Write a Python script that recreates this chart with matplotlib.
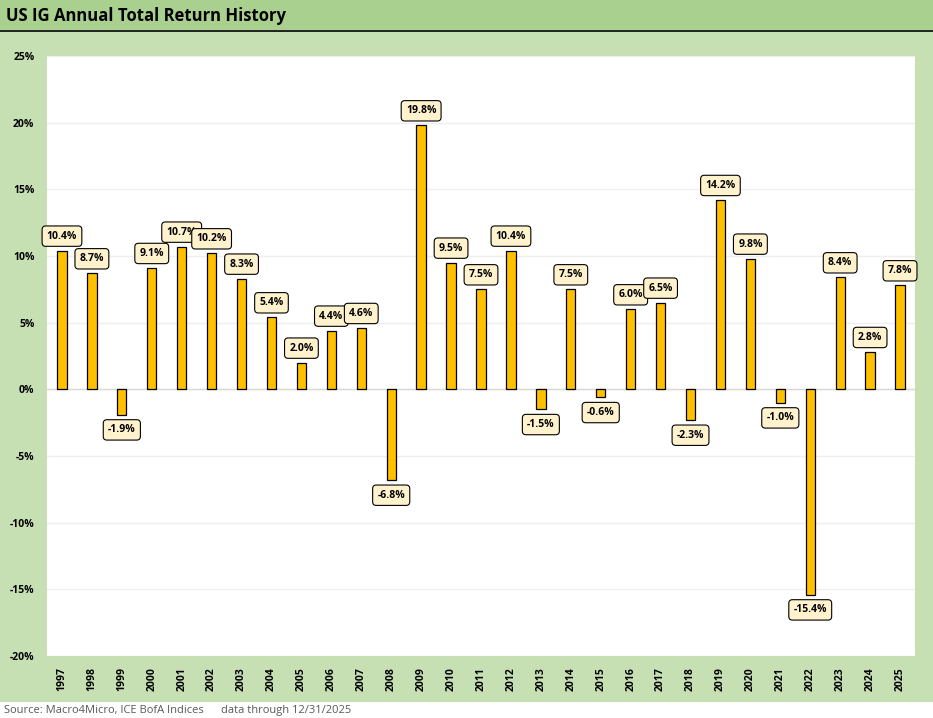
import matplotlib
matplotlib.use("Agg")
import matplotlib.pyplot as plt
from matplotlib.patches import Rectangle
from matplotlib.ticker import FuncFormatter, MultipleLocator

years = [str(y) for y in range(1997, 2026)]
returns = [10.4, 8.7, -1.9, 9.1, 10.7, 10.2, 8.3, 5.4, 2.0, 4.4, 4.6, -6.8, 19.8,
           9.5, 7.5, 10.4, -1.5, 7.5, -0.6, 6.0, 6.5, -2.3, 14.2, 9.8, -1.0, -15.4,
           8.4, 2.8, 7.8]

title = "US IG Annual Total Return History"
source = "Source: Macro4Micro, ICE BofA Indices      data through 12/31/2025"

plt.rcParams['font.family'] = ['Open Sans', 'DejaVu Sans']

W, H = 933, 718
fig = plt.figure(figsize=(W / 100, H / 100), dpi=100)
fig.patch.set_facecolor('white')

# title bar
fig.add_artist(Rectangle((0, 1 - 30 / H), 1, 30 / H, transform=fig.transFigure,
                         facecolor='#a9d08e', edgecolor='none', zorder=-2))
fig.add_artist(plt.Line2D([0, 1], [1 - 30.5 / H, 1 - 30.5 / H], transform=fig.transFigure,
                          color='black', lw=1.2, zorder=-1))
# green panel
fig.add_artist(Rectangle((0, 1 - 702 / H), 1, (702 - 31) / H, transform=fig.transFigure,
                         facecolor='#c6e0b4', edgecolor='none', zorder=-2))

fig.text(6 / W, 1 - 16 / H, title, fontsize=12, fontweight='bold', va='center', ha='left')
fig.text(4 / W, 1 - 711 / H, source, fontsize=8, color='#595959', va='center', ha='left')

left, right, top, bottom = 47, 915, 56, 656
ax = fig.add_axes([left / W, 1 - bottom / H, (right - left) / W, (bottom - top) / H])
ax.set_facecolor('white')
ax.set_zorder(1)

x = list(range(len(years)))
ax.bar(x, returns, width=0.31, color='#ffc000', edgecolor='black', linewidth=0.9, zorder=3)
ax.set_xlim(-0.5, len(years) - 0.5)
ax.set_ylim(-20, 25)
ax.yaxis.set_major_locator(MultipleLocator(5))
ax.yaxis.set_major_formatter(FuncFormatter(lambda v, p: f"{v:.0f}%"))
ax.grid(axis='y', color='#efefef', lw=1, zorder=0)
ax.axhline(0, color='#d9d9d9', lw=1, zorder=2)
for s in ax.spines.values():
    s.set_visible(False)
ax.tick_params(axis='both', length=0)
ax.set_xticks(x)
ax.set_xticklabels(years, rotation=90, fontsize=7.5, fontweight='bold')
ax.tick_params(axis='x', pad=8)
for t in ax.get_yticklabels():
    t.set_fontsize(7.5)
    t.set_fontweight('bold')
ax.tick_params(axis='y', pad=9)

for xi, v in zip(x, returns):
    off = 6.5 if v >= 0 else -7
    ax.annotate(f"{v:.1f}%", (xi, v), xytext=(0, off), textcoords='offset points',
                ha='center', va='bottom' if v >= 0 else 'top', fontsize=7.5, fontweight='bold',
                bbox=dict(boxstyle='round,pad=0.45,rounding_size=0.35', fc='#fff2cc', ec='black', lw=0.8),
                zorder=5)

fig.savefig('out.png', dpi=100)
